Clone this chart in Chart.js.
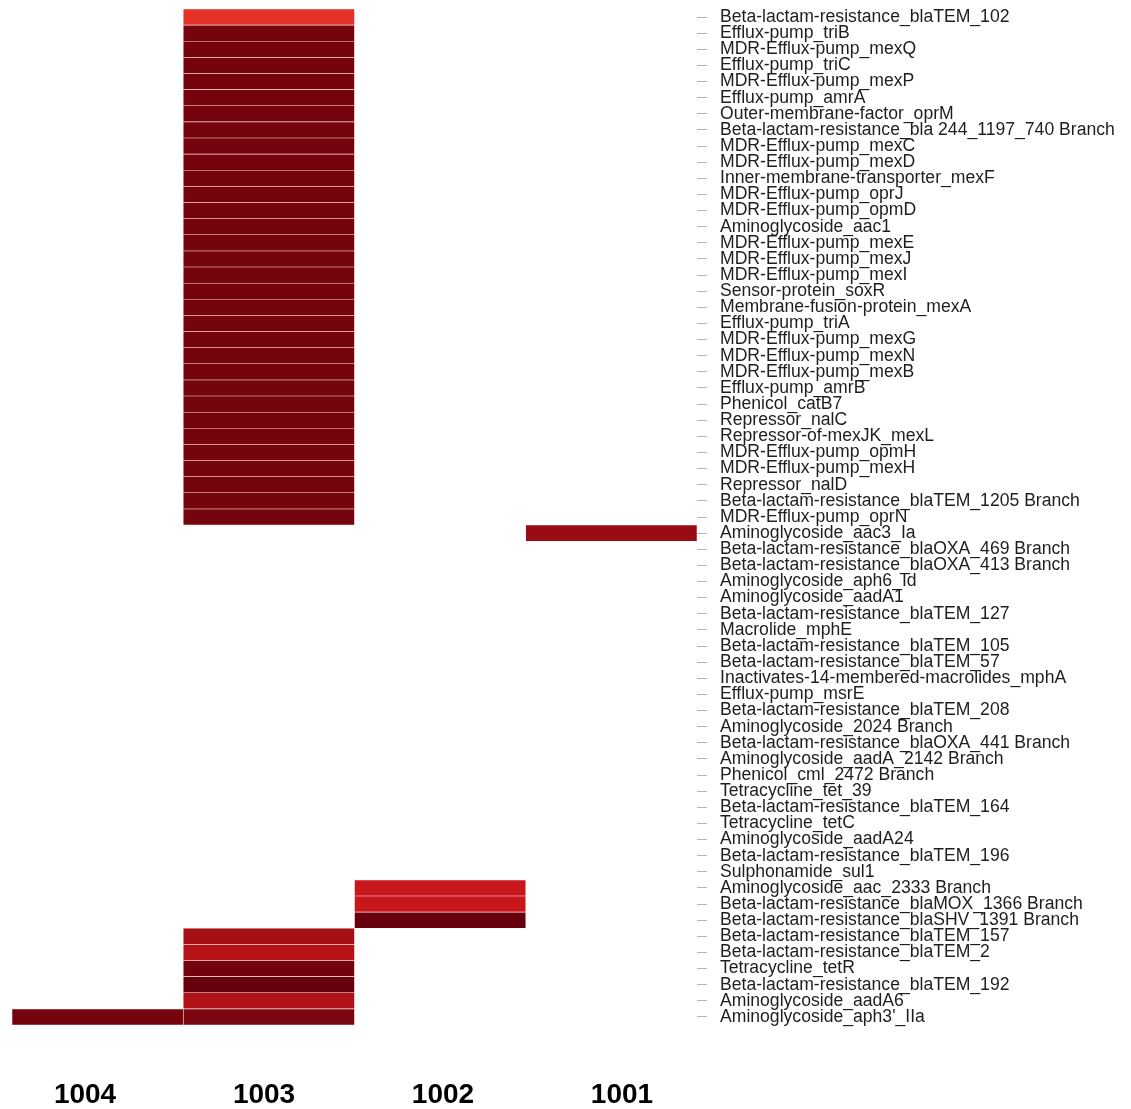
<!DOCTYPE html>
<html>
<head>
<meta charset="utf-8">
<title>Resistance gene heatmap</title>
<script src="https://cdn.jsdelivr.net/npm/chart.js@4.4.1/dist/chart.umd.min.js"></script>
<style>
  html, body { margin: 0; padding: 0; background: #ffffff; }
  #wrap { width: 1131px; height: 1109px; position: relative; }
</style>
</head>
<body>
<div id="wrap"><canvas id="heat"></canvas></div>
<script>
// Samples (columns, left to right)
const samples = ['1004', '1003', '1002', '1001'];

// Resistance genes (rows, top to bottom)
const genes = [
  'Beta-lactam-resistance_blaTEM_102',
  'Efflux-pump_triB',
  'MDR-Efflux-pump_mexQ',
  'Efflux-pump_triC',
  'MDR-Efflux-pump_mexP',
  'Efflux-pump_amrA',
  'Outer-membrane-factor_oprM',
  'Beta-lactam-resistance_bla 244_1197_740 Branch',
  'MDR-Efflux-pump_mexC',
  'MDR-Efflux-pump_mexD',
  'Inner-membrane-transporter_mexF',
  'MDR-Efflux-pump_oprJ',
  'MDR-Efflux-pump_opmD',
  'Aminoglycoside_aac1',
  'MDR-Efflux-pump_mexE',
  'MDR-Efflux-pump_mexJ',
  'MDR-Efflux-pump_mexI',
  'Sensor-protein_soxR',
  'Membrane-fusion-protein_mexA',
  'Efflux-pump_triA',
  'MDR-Efflux-pump_mexG',
  'MDR-Efflux-pump_mexN',
  'MDR-Efflux-pump_mexB',
  'Efflux-pump_amrB',
  'Phenicol_catB7',
  'Repressor_nalC',
  'Repressor-of-mexJK_mexL',
  'MDR-Efflux-pump_opmH',
  'MDR-Efflux-pump_mexH',
  'Repressor_nalD',
  'Beta-lactam-resistance_blaTEM_1205 Branch',
  'MDR-Efflux-pump_oprN',
  'Aminoglycoside_aac3_Ia',
  'Beta-lactam-resistance_blaOXA_469 Branch',
  'Beta-lactam-resistance_blaOXA_413 Branch',
  'Aminoglycoside_aph6_Id',
  'Aminoglycoside_aadA1',
  'Beta-lactam-resistance_blaTEM_127',
  'Macrolide_mphE',
  'Beta-lactam-resistance_blaTEM_105',
  'Beta-lactam-resistance_blaTEM_57',
  'Inactivates-14-membered-macrolides_mphA',
  'Efflux-pump_msrE',
  'Beta-lactam-resistance_blaTEM_208',
  'Aminoglycoside_2024 Branch',
  'Beta-lactam-resistance_blaOXA_441 Branch',
  'Aminoglycoside_aadA_2142 Branch',
  'Phenicol_cml_2472 Branch',
  'Tetracycline_tet_39',
  'Beta-lactam-resistance_blaTEM_164',
  'Tetracycline_tetC',
  'Aminoglycoside_aadA24',
  'Beta-lactam-resistance_blaTEM_196',
  'Sulphonamide_sul1',
  'Aminoglycoside_aac_2333 Branch',
  'Beta-lactam-resistance_blaMOX_1366 Branch',
  'Beta-lactam-resistance_blaSHV_1391 Branch',
  'Beta-lactam-resistance_blaTEM_157',
  'Beta-lactam-resistance_blaTEM_2',
  'Tetracycline_tetR',
  'Beta-lactam-resistance_blaTEM_192',
  'Aminoglycoside_aadA6',
  "Aminoglycoside_aph3'_IIa"
];

// Scaled abundance per gene (0..1), null = not detected
const N = null;
const val1004 = [
  N,N,N,N,N,N,N,N,N,N,N,N,N,N,N,N,N,N,N,N,N,N,N,N,N,N,N,N,N,N,N,N,
  N,N,N,N,N,N,N,N,N,N,N,N,N,N,N,N,N,N,N,N,N,N,N,N,N,N,N,N,N,N,
  0.97
];
const val1003 = [
  0.66,0.97,0.97,0.97,0.97,0.97,0.97,0.97,0.97,0.97,0.97,0.97,0.97,0.97,0.97,0.97,
  0.97,0.97,0.97,0.97,0.97,0.97,0.97,0.97,0.97,0.97,0.97,0.97,0.97,0.97,0.97,0.97,
  N,N,N,N,N,N,N,N,N,N,N,N,N,N,N,N,N,N,N,N,N,N,N,N,N,
  0.875,0.82,0.98,1.0,0.84,0.96
];
const val1002 = [
  N,N,N,N,N,N,N,N,N,N,N,N,N,N,N,N,N,N,N,N,N,N,N,N,N,N,N,N,N,N,N,N,
  N,N,N,N,N,N,N,N,N,N,N,N,N,N,N,N,N,N,N,N,N,N,
  0.76,0.76,1.0,
  N,N,N,N,N,N
];
const val1001 = [
  N,N,N,N,N,N,N,N,N,N,N,N,N,N,N,N,N,N,N,N,N,N,N,N,N,N,N,N,N,N,N,N,
  0.9,
  N,N,N,N,N,N,N,N,N,N,N,N,N,N,N,N,N,N,N,N,N,N,N,N,N,N,N,N,N,N
];
const columnValues = [val1004, val1003, val1002, val1001];

// Sequential red palette
const reds = ['#fff5f0','#fee0d2','#fcbba1','#fc9272','#fb6a4a','#ef3b2c','#cb181d','#a50f15','#67000d'];
function hexToRgb(h) {
  const n = parseInt(h.slice(1), 16);
  return [(n >> 16) & 255, (n >> 8) & 255, n & 255];
}
function redColor(v) {
  const p = Math.max(0, Math.min(1, v)) * (reds.length - 1);
  const i = Math.min(reds.length - 2, Math.floor(p));
  const t = p - i;
  const a = hexToRgb(reds[i]), b = hexToRgb(reds[i + 1]);
  const c = a.map((x, k) => Math.round(x + (b[k] - x) * t));
  return `rgb(${c[0]},${c[1]},${c[2]})`;
}

const datasets = columnValues.map((vals, ci) => ({
  label: samples[ci],
  data: vals.map(v => (v == null ? null : [ci, ci + 1])),
  backgroundColor: vals.map(v => (v == null ? 'rgba(0,0,0,0)' : redColor(v))),
  borderColor: 'rgba(255,210,210,0.55)',
  borderWidth: 0.6,
  borderSkipped: false,
  grouped: false,
  barPercentage: 1,
  categoryPercentage: 1,
  xAxisID: 'x',
  yAxisID: 'y'
}));

// Sample label placement along the bottom
const labelTicks = [0.5, 1.5, 2.5, 3.5];

new Chart(document.getElementById('heat'), {
  type: 'bar',
  data: { labels: genes, datasets },
  options: {
    indexAxis: 'y',
    responsive: true,
    maintainAspectRatio: false,
    animation: false,
    layout: { padding: { left: 12, top: 9, right: 0, bottom: 0 } },
    plugins: { legend: { display: false }, tooltip: { enabled: false } },
    scales: {
      x: {
        type: 'linear',
        min: 0,
        max: 4,
        display: false
      },
      cols: {
        type: 'linear',
        position: 'bottom',
        min: 0.092,
        max: 3.919,
        afterBuildTicks: (s) => { s.ticks = labelTicks.map(v => ({ value: v })); },
        afterFit: (s) => { s.height = 84; s.paddingLeft = 0; s.paddingRight = 0; },
        grid: { display: false },
        border: { display: false },
        ticks: {
          callback: (v) => samples[labelTicks.indexOf(v)],
          font: { family: 'Liberation Sans', size: 28, weight: 'bold' },
          color: '#000000',
          padding: 45,
          maxRotation: 0
        }
      },
      y: {
        type: 'category',
        position: 'right',
        offset: true,
        afterFit: (s) => { s.width = 434; s.paddingTop = 0; s.paddingBottom = 0; },
        grid: {
          display: true,
          offset: false,
          drawOnChartArea: false,
          drawTicks: true,
          tickLength: 10,
          tickColor: '#b5b5b5',
          tickWidth: 1
        },
        border: { display: false },
        ticks: {
          autoSkip: false,
          font: { family: 'Liberation Sans', size: 17.6 },
          color: '#1e1e1e',
          padding: 13
        }
      }
    }
  }
});
</script>
</body>
</html>
